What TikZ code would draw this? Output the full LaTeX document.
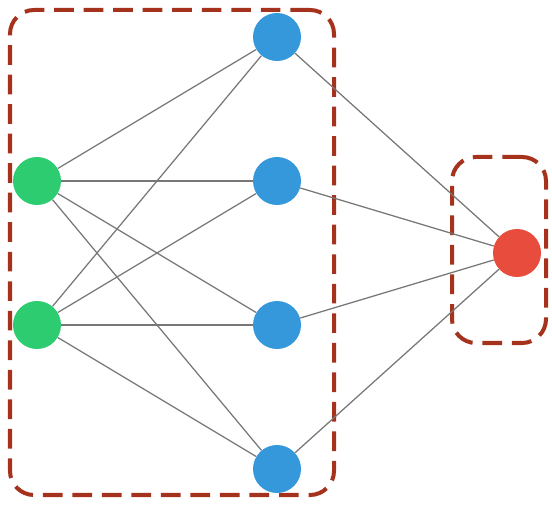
\documentclass[tikz,border=0pt]{standalone}
\usepackage{tikz}
\usetikzlibrary{arrows.meta,positioning}
\definecolor{nnInput}{HTML}{2ECC71}
\definecolor{nnHidden}{HTML}{3498DB}
\definecolor{nnOutput}{HTML}{E74C3C}
\definecolor{nnEdge}{HTML}{777777}
\definecolor{nnGroup}{HTML}{A5321C}

\begin{document}
\begin{tikzpicture}[
        neuron/.style={
            circle,
            draw=none,
            minimum size=1.2cm,
            inner sep=0pt
        },
        input/.style={neuron, fill=nnInput},
        hidden/.style={neuron, fill=nnHidden},
        output/.style={neuron, fill=nnOutput},
        group/.style={
            draw=nnGroup,
            line width=2.85pt,
            rounded corners=0.6cm,
            dash pattern=on 14pt off 7pt,
            inner sep=0pt
        },
        edge/.style={
            draw=nnEdge,
            line width=0.9pt
        }
    ]

    \useasboundingbox (0,0) rectangle (13.8,12.7);

    \node[group, minimum width=8.1cm, minimum height=12.125cm] (box1) at (4.3,6.3875) {};
    \node[group, minimum width=2.35cm, minimum height=4.65cm] (box2) at (12.475,6.45) {};

    \node[input] (in1) at (0.925,8.175) {};
    \node[input] (in2) at (0.925,4.575) {};

    \node[hidden] (h1) at (6.925,11.775) {};
    \node[hidden] (h2) at (6.925,8.175) {};
    \node[hidden] (h3) at (6.925,4.575) {};
    \node[hidden] (h4) at (6.925,0.975) {};

    \node[output] (out) at (12.925,6.375) {};

    \foreach \i in {1,2}
        \foreach \j in {1,...,4}
            \draw[edge] (in\i) -- (h\j);

    \foreach \j in {1,...,4}
        \draw[edge] (h\j) -- (out);

\end{tikzpicture}
\end{document}
